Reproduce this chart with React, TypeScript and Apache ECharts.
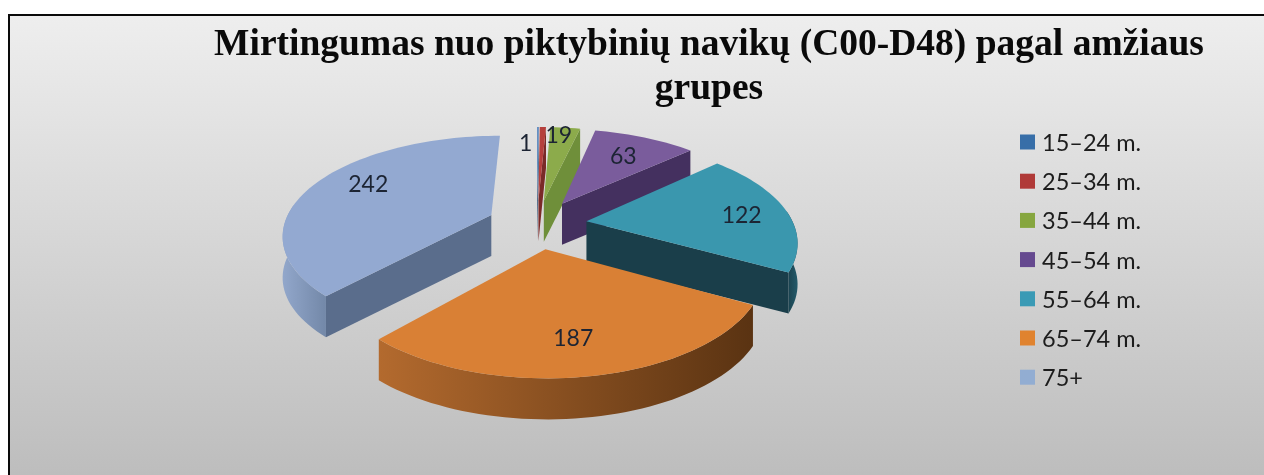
import React, { useEffect, useRef } from "react";
import * as echarts from "echarts";

const titleText = "Mirtingumas nuo piktybinių navikų (C00-D48) pagal amžiaus\ngrupes";
const categories = ["15–24 m.", "25–34 m.", "35–44 m.", "45–54 m.", "55–64 m.", "65–74 m.", "75+"];
const values = [1, 4, 19, 63, 122, 187, 242];
const labelTexts = ["1", "", "19", "63", "122", "187", "242"];
const topColors = ["#4a7ebb", "#b5403d", "#8cab4b", "#7a5c9c", "#3a97ae", "#d98035", "#93a9d1"];
const legendColors = ["#376ea8", "#b03a38", "#86a63f", "#65498f", "#3a9ab5", "#e0832f", "#92add2"];
const faceColors = ["#2f5278", "#7a2a28", "#6f8f3a", "#44305f", "#1a3e4a", "#8a5020", "#5a6d8c"];
const arcLeftColors = ["#2f5278", "#7a2a28", "#6f8f3a", "#44305f", "#1a3e4a", "#b36a2e", "#92a7cb"];
const arcRightColors = ["#2f5278", "#7a2a28", "#6f8f3a", "#44305f", "#245a6a", "#5a3312", "#7388a8"];

// projection of the tilted, exploded pie
const CX = 537, CY = 224, RADIUS = 207, PERSPECTIVE = 0.185, SQUASH = 0.49, EXPLODE = 50, DEPTH = 41;
// label placement: fraction of radius, and pixel nudge
const labelRadius = [0.7, 0, 0.85, 0.7, 0.75, 0.75, 0.75];
const labelNudge = [[-12, -3], [0, 0], [-4, -2], [0, 0], [5, 1], [-3, -4], [9, -6]];

const total = values.reduce((a, b) => a + b, 0);
const startDeg: number[] = [];
{
  let acc = 0;
  for (const v of values) { startDeg.push((acc / total) * 360); acc += v; }
}

function project(X: number, Z: number, elev: number): number[] {
  const s = 1 - (PERSPECTIVE * Z) / RADIUS;
  return [CX + s * X, CY - s * Z * SQUASH + DEPTH * elev];
}

function makeRender(i: number) {
  return (_params: any, api: any) => {
    const a0 = startDeg[i];
    const a1 = a0 + (api.value(0) / total) * 360;
    const mid = ((a0 + a1) / 2) * Math.PI / 180;
    const ax = EXPLODE * Math.sin(mid), az = EXPLODE * Math.cos(mid);
    const pt = (deg: number, r: number, elev: number) => {
      const t = (deg * Math.PI) / 180;
      return project(ax + r * Math.sin(t), az + r * Math.cos(t), elev);
    };
    const arc = (from: number, to: number, elev: number) => {
      const out: number[][] = [];
      const n = Math.max(2, Math.ceil(Math.abs(to - from) / 2));
      for (let k = 0; k <= n; k++) out.push(pt(from + ((to - from) * k) / n, RADIUS, elev));
      return out;
    };
    const children: any[] = [];
    // cut face
    const faceA = a1 < 180 ? a1 : a0 > 180 ? a0 : null;
    if (faceA !== null) {
      children.push({
        type: "polygon",
        shape: { points: [pt(0, 0, 0), pt(faceA, RADIUS, 0), pt(faceA, RADIUS, 1), pt(0, 0, 1)] },
        style: { fill: faceColors[i] },
      });
    }
    // outer wall
    const w0 = Math.max(a0, 84), w1 = Math.min(a1, 276);
    if (w1 > w0) {
      children.push({
        type: "polygon",
        shape: { points: [...arc(w0, w1, 0), ...arc(w1, w0, 1)] },
        style: {
          fill: new echarts.graphic.LinearGradient(0, 0, 1, 0, [
            { offset: 0, color: arcLeftColors[i] },
            { offset: 1, color: arcRightColors[i] },
          ]),
        },
      });
    }
    // top
    children.push({
      type: "polygon",
      shape: { points: [pt(0, 0, 0), ...arc(a0, a1, 0)] },
      style: { fill: topColors[i] },
    });
    if (labelTexts[i]) {
      const p = pt((a0 + a1) / 2, RADIUS * labelRadius[i], 0);
      children.push({
        type: "text",
        x: p[0] + labelNudge[i][0],
        y: p[1] + labelNudge[i][1],
        style: {
          text: labelTexts[i],
          fill: "#1c2433",
          font: '23px Lato',
          align: "center",
          verticalAlign: "middle",
        },
      });
    }
    return { type: "group", children };
  };
}

export default function App() {
  const ref = useRef<HTMLDivElement>(null);
  useEffect(() => {
    const chart = echarts.init(ref.current!, undefined, { renderer: "svg" });
    chart.setOption({
      animation: false,
      backgroundColor: "#ffffff",
      title: {
        text: titleText,
        left: 704,
        top: 15,
        textAlign: "center",
        textStyle: {
          fontFamily: "Liberation Serif",
          fontWeight: "bold",
          fontSize: 37.5,
          lineHeight: 44,
          color: "#0a0a0a",
        },
      },
      legend: {
        orient: "vertical",
        left: 1015,
        top: 125,
        itemWidth: 15,
        itemHeight: 15,
        itemGap: 15.2,
        icon: "rect",
        data: categories,
        textStyle: { fontFamily: "Lato", fontSize: 23.5, color: "#1c1c1c", padding: [0, 0, 0, 2] },
      },
      graphic: {
        elements: [
          {
            type: "rect",
            z: -10,
            silent: true,
            shape: { x: 9, y: 15, width: 1262, height: 470 },
            style: {
              fill: new echarts.graphic.LinearGradient(0, 0, 0, 1, [
                { offset: 0, color: "#eeeeee" },
                { offset: 1, color: "#bcbcbc" },
              ]),
              stroke: "#0a0a0a",
              lineWidth: 2,
            },
          },
        ],
      },
      series: categories.map((name, i) => ({
        type: "custom",
        name,
        coordinateSystem: "none",
        silent: true,
        itemStyle: { color: legendColors[i] },
        renderItem: makeRender(i),
        data: [[values[i]]],
      })),
    });
    return () => chart.dispose();
  }, []);
  return <div ref={ref} style={{ position: "fixed", left: 0, top: 0, width: 1264, height: 475, filter: "blur(0.5px)" }} />;
}
